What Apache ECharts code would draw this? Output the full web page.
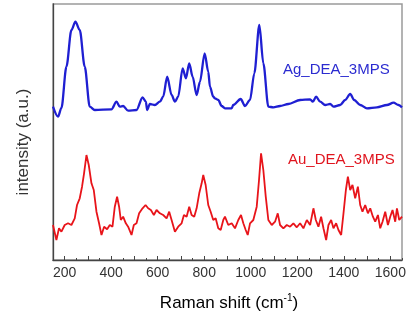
<!DOCTYPE html>
<html>
<head>
<meta charset="utf-8">
<script src="https://cdn.jsdelivr.net/npm/echarts@6/dist/echarts.min.js"></script>
<style>html,body{margin:0;padding:0;background:#fff}#c{width:411px;height:320px}</style>
</head>
<body>
<div id="c"></div>
<script>
// Raman shift (cm^-1) and intensity (a.u., arbitrary offset units)
const agShift = [150,171.5,186.2,207.7,229.2,246.4,264.9,286.4,307.9,329.4,401.4,422.9,437.1,451.4,472.9,509,534.9,549.1,554.7,566.3,587.9,609.4,623.6,640.8,659.7,674,688.1,707.1,721.3,735.5,750.1,767.3,781.5,801.8,817.3,824.6,838.8,846.1,860.3,874.9,889.1,917.9,924.8,956.7,975.2,996.7,1015.3,1036.8,1054,1075.6,1097.1,1125.9,1161.7,1212,1255.1,1266.7,1280.9,1298.2,1319.7,1341.2,1355.4,1384.2,1405.8,1427.3,1444.5,1470.3,1499.2,1542.2,1585.3,1613.7,1635.2,1650];
const agInt = [153.3,143.3,152,193.3,230,238.3,230,193.3,153.3,150,150.7,158.3,153.3,154,149.3,150,162.7,158.3,150,156,155,158.3,163.3,183.3,165,158.3,163.3,191.7,181.7,196.7,183.3,165,178,206.7,188.3,173.3,163.3,161.7,160,154,151.7,151.7,155,161,154,160,186.7,235,196.7,153.3,152.7,154,156,160,160.7,158.3,163.3,158.3,155,156,153.3,155,160,166,160,155,151.7,152.7,155,157.3,155,152.7];
const auShift = [150,164.6,175.8,186.2,200.4,214.6,229.2,243.4,253.3,264.9,274.8,283.5,293.8,303.7,315.3,325.2,336.8,348,358.4,369.6,382.5,394.1,405.7,415.6,425.5,434.1,441.4,451.4,463,472.9,487.5,497.4,509,520.2,534.9,547.8,559,570.6,583.5,595.1,609.4,623.6,638.2,649.4,659.7,674,688.1,702.8,712.7,724.3,735.5,745.8,757,767.3,778.5,788.9,795.8,806.1,817.3,827.6,838.8,849.1,860.3,870.7,881.9,
  889.1,903.4,918,932.2,946.4,958.1,968,978.3,986.9,996.8,1011,1025.6,1035.5,1044.2,1054,1064.4,1075.6,1090.2,1104.4,1116,1125.9,1140.2,1154.8,1169,1183.2,1197.9,1212,1226.3,1240.9,1255.1,1269.3,1279.6,1290.8,1302.4,1312.4,1324,1333.9,1345.5,1355.4,1367,1376.9,1388.5,1398.5,1408.8,1417.4,1427.3,1437.2,1448.8,1460.4,1470.3,1480.2,1491.8,1503.4,1513.4,1525,1534.9,1546.5,1556.4,1566.3,1577.9,1589.5,1599.4,1609.3,1620.9,1628.2,1638.1,1650];
const auInt = [35,20,31.7,28.3,35,36.7,35,41.7,55,61.7,73.3,86.7,105,95,76.7,70,48.3,36.7,25,33.3,30.7,35,33.3,53.3,63.3,53.3,40,43.3,36.7,33.3,25,35,36.7,46.7,51.7,55,51.7,50,45,50,46.7,45,41.7,48.3,40,28.3,33.3,36.7,45,43.3,53.3,45,43.3,51.7,66.7,76.7,85,75,55,48.3,40,41.7,31.7,30,40,
  43.3,35,36.7,31.7,40,45,36.7,30,25,36.7,40,53.3,80,106.7,90,63.3,40,35,38.3,46.7,35,31.7,35,33.3,36.7,32.7,36.7,31.7,40,35,51.7,40,33.3,43.3,31.7,20,35,40,31.7,36.7,30,25,46.7,70,83.3,70,75,61.7,73.3,55,48.3,55,46.7,51.7,43.3,38.3,45,31.7,38.3,48.3,35,43.3,50,38.3,51.7,40,43.3];
const tickLabels = [200,400,600,800,1000,1200,1400,1600];
const majorTicks = [200,300,400,500,600,700,800,900,1000,1100,1200,1300,1400,1500,1600];
const minorTicks = [150,250,350,450,550,650,750,850,950,1050,1150,1250,1350,1450,1550,1650];
const seriesNames = ['Ag_DEA_3MPS','Au_DEA_3MPS'];

const chart = echarts.init(document.getElementById('c'), null, {renderer:'canvas'});
const font = '"Liberation Sans", Arial, sans-serif';
chart.setOption({
  animation: false,
  grid: {left: 53, right: 9, top: 4, bottom: 60, show: true, borderColor: '#9a9a9a', borderWidth: 1.5},
  xAxis: [{
    type: 'value', min: 150, max: 1650,
    axisLine: {show: true, onZero: false, lineStyle: {color: '#444', width: 1.3}},
    axisTick: {show: true, inside: true, length: 4, customValues: majorTicks, lineStyle: {color: '#444'}},
    axisLabel: {customValues: tickLabels, formatter: v => String(v), color: '#333', fontSize: 14, fontFamily: font, margin: 6},
    splitLine: {show: false}
  },{
    type: 'value', min: 150, max: 1650, position: 'bottom',
    axisLine: {show: false},
    axisTick: {show: true, inside: true, length: 2, customValues: minorTicks, lineStyle: {color: '#444'}},
    axisLabel: {show: false},
    splitLine: {show: false}
  }],
  yAxis: {
    type: 'value', min: 0, max: 256,
    axisLine: {show: true, onZero: false, lineStyle: {color: '#444', width: 1.3}},
    axisTick: {show: false}, axisLabel: {show: false}, splitLine: {show: false}
  },
  series: [{
    name: seriesNames[0], type: 'line', showSymbol: false, smooth: 0.3, smoothMonotone: 'x',
    data: agShift.map((x, i) => [x, agInt[i]]),
    lineStyle: {color: '#1f1fd2', width: 2.3}, itemStyle: {color: '#1f1fd2'}
  },{
    name: seriesNames[1], type: 'line', showSymbol: false,
    data: auShift.map((x, i) => [x, auInt[i]]),
    lineStyle: {color: '#e8141a', width: 1.8}, itemStyle: {color: '#e8141a'}
  }],
  graphic: [
    {type: 'text', x: 283, y: 70, style: {text: seriesNames[0], fill: '#2b2bd0', font: '15px ' + font, textVerticalAlign: 'middle'}},
    {type: 'text', x: 288, y: 160, style: {text: seriesNames[1], fill: '#e0141e', font: '15px ' + font, textVerticalAlign: 'middle'}},
    {type: 'text', x: 23, y: 142, rotation: Math.PI / 2, style: {text: 'intensity (a.u.)', fill: '#333', font: '17px ' + font, textAlign: 'center', textVerticalAlign: 'middle'}},
    {type: 'text', x: 229, y: 303, style: {
      text: '{a|Raman shift (cm}{s|-1}{a|)}', textAlign: 'center', textVerticalAlign: 'middle',
      rich: {a: {fontSize: 17, fontFamily: font, color: '#333'}, s: {fontSize: 10, fontFamily: font, color: '#333', padding: [0,0,10,0]}}
    }}
  ]
});
</script>
</body>
</html>
